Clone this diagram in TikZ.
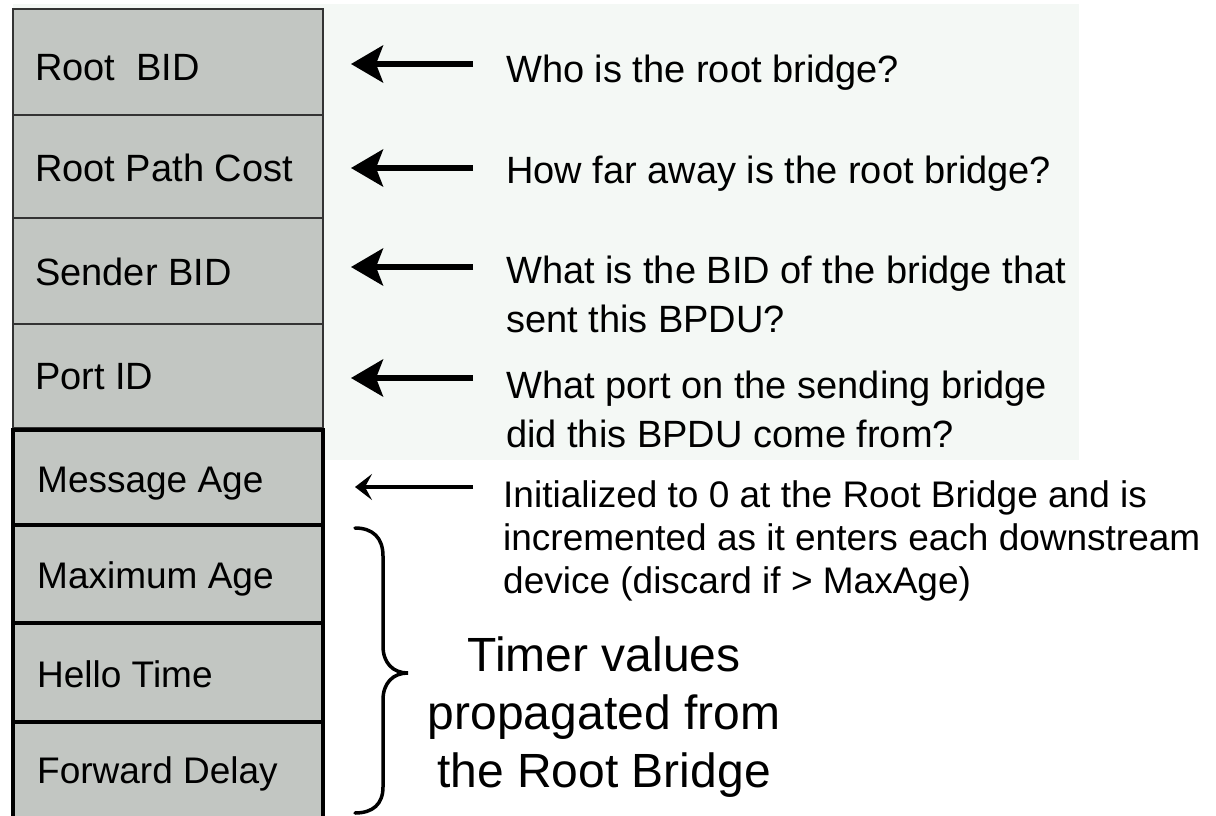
\documentclass[tikz,border=0pt]{standalone}
\usepackage{fontspec}
\setmainfont{Liberation Sans}
\usetikzlibrary{arrows.meta}
\definecolor{cellgray}{HTML}{C2C6C2}
\definecolor{panelbg}{HTML}{F4F8F5}
\begin{document}
\begin{tikzpicture}[x=1pt, y=-1pt,
  upcell/.style={draw=black!80, line width=2.6pt, fill=cellgray, inner sep=0pt,
    outer sep=0pt, minimum width=310pt, anchor=north west},
  lowcell/.style={draw=black, line width=3.6pt, fill=cellgray, inner sep=0pt,
    outer sep=0pt, minimum width=310pt, anchor=north west},
  fieldU/.style={anchor=base west, inner sep=0pt, font=\fontsize{38}{46}\selectfont},
  fieldL/.style={anchor=base west, inner sep=0pt, font=\fontsize{37}{44}\selectfont},
  % multi-line nodes are placed by the baseline of their last line
  question/.style={anchor=base west, inner sep=0pt, align=left,
    font=\fontsize{38}{49}\selectfont},
  note/.style={anchor=base west, inner sep=0pt, align=left,
    font=\fontsize{37}{43}\selectfont},
  timer/.style={anchor=base, inner sep=0pt, align=center,
    font=\fontsize{48}{58}\selectfont},
  bigarrow/.style={line width=5.5pt, -{Stealth[length=32pt, width=37pt, inset=7pt]}},
  smallarrow/.style={line width=4.5pt, -{Stealth[length=17pt, width=26pt, inset=7pt]}},
]
\useasboundingbox (0,0) rectangle (1216,816);
\clip (0,0) rectangle (1216,816);

% light panel behind the upper fields and their questions
\fill[panelbg] (13,4) rectangle (1079,460);

% BPDU fields, upper group
\node[upcell, minimum height=106pt] (rootbid)   at (13,9)   {};
\node[upcell, minimum height=103pt] (pathcost)  at (13,115) {};
\node[upcell, minimum height=106pt] (senderbid) at (13,218) {};
\node[upcell, minimum height=104pt] (portid)    at (13,324) {};
% BPDU fields, timer group
\node[lowcell, minimum height=95pt]  (msgage) at (13,430) {};
\node[lowcell, minimum height=98pt]  (maxage) at (13,525) {};
\node[lowcell, minimum height=99pt]  (hello)  at (13,623) {};
\node[lowcell, minimum height=110pt] (fwd)    at (13,722) {};

% field names
\node[fieldU] (l-rootbid)   at (35,81)  {Root\ \ BID};
\node[fieldU] (l-pathcost)  at (35,181) {Root Path Cost};
\node[fieldU] (l-senderbid) at (35,285) {Sender BID};
\node[fieldU] (l-portid)    at (35,389) {Port ID};
\node[fieldL] (l-msgage) at (37,492) {Message Age};
\node[fieldL] (l-maxage) at (37,588) {Maximum Age};
\node[fieldL] (l-hello)  at (37,687) {Hello Time};
\node[fieldL] (l-fwd)    at (37,783) {Forward Delay};

% explanations
\node[question] (q1) at (506,82)  {Who is the root bridge?};
\node[question] (q2) at (506,183) {How far away is the root bridge?};
\node[question] (q3) at (506,332) {What is the BID of the bridge that\\sent this BPDU?};
\node[question] (q4) at (506,447) {What port on the sending bridge\\did this BPDU come from?};
\node[note] (n1) at (503,593) {Initialized to 0 at the Root Bridge and is\\incremented as it enters each downstream\\device (discard if > MaxAge)};
\node[timer] (timer) at (604,787) {Timer values\\propagated from\\the Root Bridge};

% arrow heights
\path (0,64)  coordinate (y1)
      (0,168) coordinate (y2)
      (0,267) coordinate (y3)
      (0,378) coordinate (y4)
      (0,487) coordinate (y5);

% arrows from each explanation to its field
\draw[bigarrow, shorten <=33pt, shorten >=28pt] (q1.west |- y1) -- (rootbid.east |- y1);
\draw[bigarrow, shorten <=33pt, shorten >=28pt] (q2.west |- y2) -- (pathcost.east |- y2);
\draw[bigarrow, shorten <=33pt, shorten >=28pt] (q3.west |- y3) -- (senderbid.east |- y3);
\draw[bigarrow, shorten <=33pt, shorten >=28pt] (q4.west |- y4) -- (portid.east |- y4);
\draw[smallarrow, shorten <=30pt, shorten >=32pt] (n1.west |- y5) -- (msgage.east |- y5);

% brace grouping the three timer fields
\draw[line width=3.5pt, line cap=round]
  (355,528) .. controls (373,528) and (383,538) .. (383,556)
  -- (383,646) .. controls (383,663) and (393,673) .. (408,673)
  .. controls (393,673) and (383,683) .. (383,700)
  -- (383,787) .. controls (383,804) and (373,813) .. (355,813);
\end{tikzpicture}
\end{document}
